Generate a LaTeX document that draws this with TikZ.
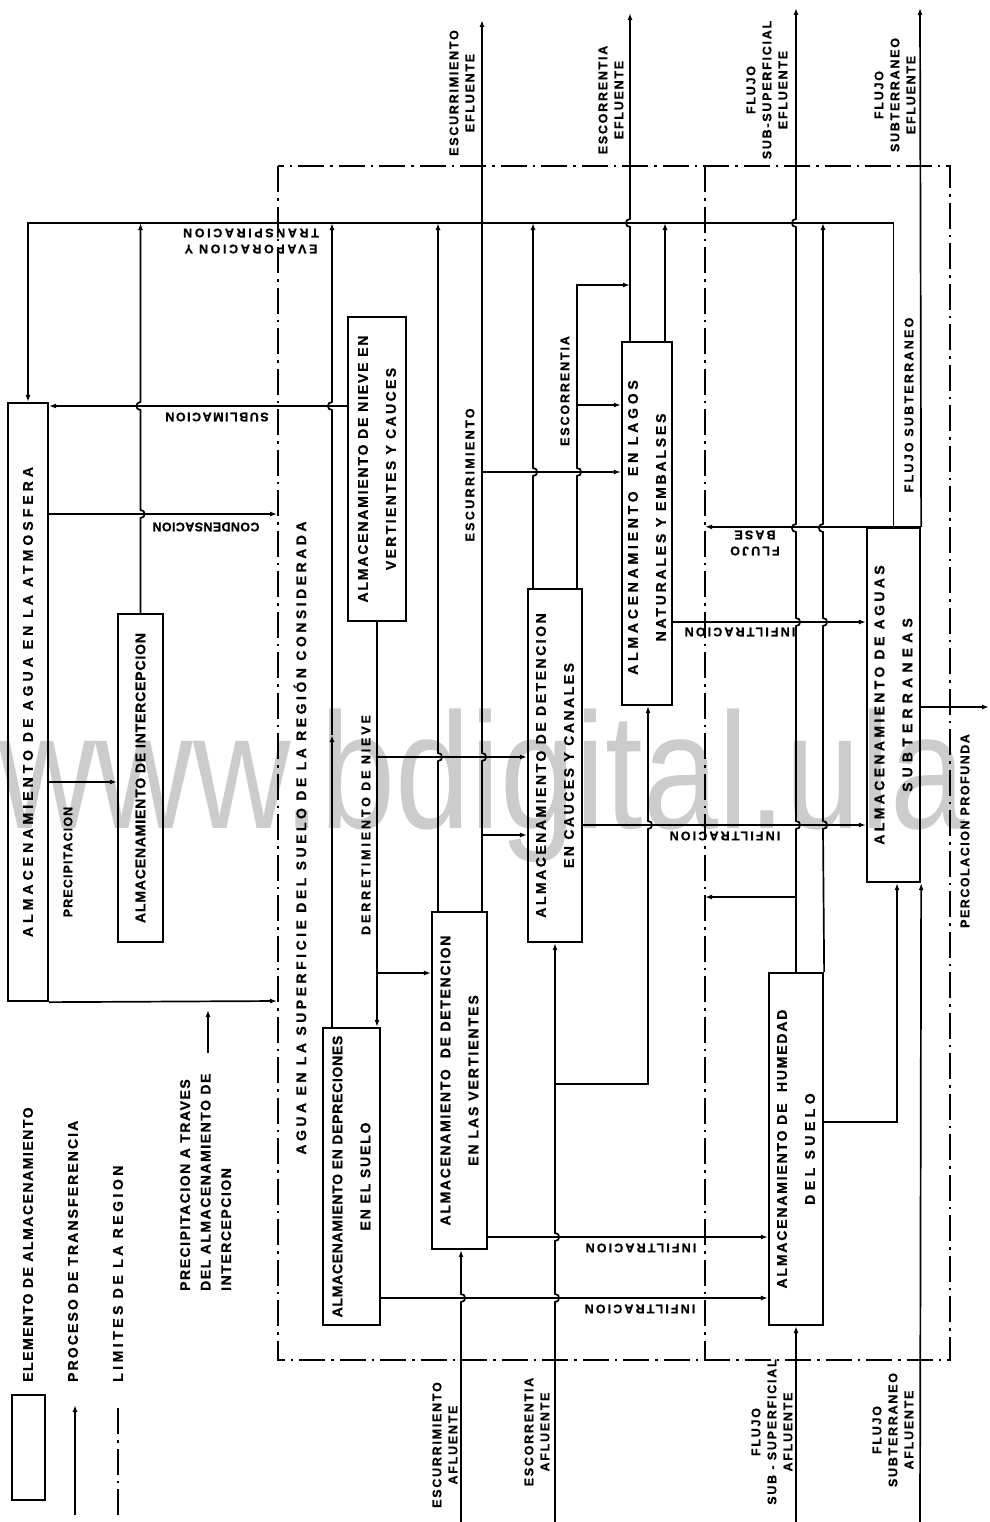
\documentclass[tikz,border=0pt]{standalone}
\usepackage{fontspec}
\setmainfont{Liberation Sans}
\newfontfamily\lbf{Liberation Sans Bold}[FakeBold=0.8]
\usetikzlibrary{arrows.meta}
\newcommand\LS[1]{\addfontfeature{LetterSpace=#1}}
\tikzset{
  ln/.style={line width=1.7bp},
  arr/.style={ln, -{Latex[length=7bp,width=5bp]}},
  box/.style={draw, line width=2.3bp, inner sep=0pt},
  region/.style={line width=1.7bp, dash pattern=on 26bp off 6bp on 2.5bp off 6bp},
  txt/.style={inner sep=0pt, align=center, font=\lbf\fontsize{14bp}{28bp}\selectfont},
  lab/.style={inner sep=0pt, align=center, font=\lbf\fontsize{12.5bp}{16bp}\selectfont},
  end/.style={inner sep=0pt, align=center, font=\lbf\fontsize{12.5bp}{16bp}\selectfont\LS{14}},
  % small semicircular hop of a vertical line (drawn upwards) over a horizontal one
  jump/.style n args={3}{insert path={-- ({#1},{#2+4}) .. controls ({#1+(#3)*5.5},{#2+4}) and ({#1+(#3)*5.5},{#2-4}) .. ({#1},{#2-4})}},
}
\begin{document}
\begin{tikzpicture}[x=1bp,y=-1bp]
\useasboundingbox (0,0) rectangle (989,1522);

% ---------- watermark (behind the drawing) ----------
\node[anchor=base west, inner sep=0pt, text=black!20, xscale=0.9, yscale=1.1, font=\fontsize{150bp}{150bp}\selectfont] (wm) at (-2,828) {www.bdigital.ula};

% ---------- limits of the region ----------
\coordinate (rNW) at (278,166);
\coordinate (rSE) at (950,1360);
\coordinate (dT) at (705,166);
\coordinate (dB) at (705,1360);
\draw[region] (rNW) rectangle (rSE);
\draw[region] (dT) -- (dB);

% ---------- storage elements ----------
\node[box, minimum width=40bp, minimum height=598bp] (atm) at (28,702) {};
\node[box, minimum width=45bp, minimum height=328bp] (intc) at (140.5,778) {};
\node[box, minimum width=58bp, minimum height=304bp] (snow) at (377,469) {};
\node[box, minimum width=57bp, minimum height=297bp] (dep) at (351.5,1176.5) {};
\node[box, minimum width=55bp, minimum height=337bp] (vert) at (459.5,1080.5) {};
\node[box, minimum width=54bp, minimum height=353bp] (cauc) at (555,765.5) {};
\node[box, minimum width=50bp, minimum height=363bp] (lake) at (647,523.5) {};
\node[box, minimum width=53bp, minimum height=354bp] (gw) at (893.5,705) {};
\node[box, minimum width=54bp, minimum height=352bp] (soil) at (796,1149) {};
\node[box, minimum width=33bp, minimum height=105bp] (lgbox) at (28.5,1447.5) {};

\node[txt, rotate=90] (tAtm) at (atm.center) {\LS{29}ALMACENAMIENTO DE AGUA EN LA ATMOSFERA};
\node[txt, rotate=90] (tIntc) at (intc.center) {\LS{6}ALMACENAMIENTO DE INTERCEPCION};
\node[txt, rotate=90] (tSnow) at (snow.center) {{\LS{13}ALMACENAMIENTO DE NIEVE EN}\\{\LS{17}VERTIENTES Y CAUCES}};
\node[txt, rotate=90] (tDep) at (dep.center) {{\LS{5}ALMACENAMIENTO EN DEPRECIONES}\\{\LS{13}EN EL SUELO}};
\node[txt, rotate=90] (tVert) at (vert.center) {{\LS{12}ALMACENAMIENTO\ \ DE DETENCION}\\{\LS{14}EN LAS VERTIENTES}};
\node[txt, rotate=90] (tCauc) at (cauc.center) {{\LS{18}ALMACENAMIENTO DE DETENCION}\\{\LS{18}EN CAUCES Y CANALES}};
\node[txt, rotate=90] (tLake) at ([yshift=-4bp]lake.center) {{\LS{27}ALMACENAMIENTO\ \ EN LAGOS}\\{\LS{20}NATURALES Y EMBALSES}};
\node[txt, rotate=90] (tGw) at (gw.center) {{\LS{24}ALMACENAMIENTO DE AGUAS}\\{\LS{37}SUBTERRANEAS}};
\node[txt, rotate=90] (tSoil) at (soil.center) {{\LS{13}ALMACENAMIENTO DE\ \ HUMEDAD}\\{\LS{32}DEL SUELO}};

% ---------- evaporation and transpiration ----------
\coordinate (evR) at (893.5,223);
\coordinate (evL) at (28,223);
\draw[arr] (gw.north) -- (evR) -- (evL) -- (atm.north);
\node[lab, rotate=180] (lEv) at (251,241) {{\LS{21}EVAPORACION Y}\\{\LS{21}TRANSPIRACION}};
\draw[arr] (intc.north) [jump={140.5}{514}{1}] [jump={140.5}{406}{-1}] -- (intc.north |- evL);

% ---------- atmosphere exchanges ----------
\draw[arr] (snow.west |- 0,406) -- (atm.east |- 0,406);
\node[lab, rotate=180] (lSub) at (217,417) {\LS{12}SUBLIMACION};
\coordinate (conE) at (277,514);
\draw[arr] (atm.east |- conE) -- (conE);
\node[lab, rotate=180] (lCon) at (206,527) {\LS{3}CONDENSACION};
\draw[arr] (atm.east |- 0,782) -- (intc.west |- 0,782);
\node[lab, rotate=90] (lPre) at (68,862) {\LS{9}PRECIPITACION};
\coordinate (thrE) at (277,1001);
\draw[arr] (atm.south east) -- (thrE);

% ---------- surface storages ----------
\coordinate (depM) at (332,735);
\draw[arr] (dep.north -| depM) -- (depM);
\draw[arr] (depM) [jump={332}{406}{-1}] -- (depM |- evL);
\draw[arr] (snow.south) -- (dep.north -| snow.south);
\node[lab, rotate=90] (lDer) at (366,825) {\LS{23}DERRETIMIENTO DE NIEVE};
\coordinate (dr1) at (377,757);
\coordinate (dr2) at (377,973);
\draw[arr] (dr1) -- (cauc.west |- dr1);
\draw[arr] (dr2) -- (vert.west |- dr2);
\draw[arr] (vert.north -| 438,0) [jump={438}{757}{1}] -- (438,223);
\coordinate (escTop) at (482,20);
\draw[arr] (vert.north -| escTop) [jump={482}{757}{1}] -- (escTop);
\coordinate (es1) at (482,472);
\coordinate (es2) at (482,835);
\draw[arr] (es1) -- (lake.west |- es1);
\draw[arr] (es2) -- (cauc.west |- es2);
\node[lab, rotate=90] (lEsc) at (470,475) {\LS{19}ESCURRIMIENTO};
\draw[arr] (cauc.north -| 533,0) [jump={533}{472}{1}] -- (533,223);
\coordinate (ec1) at (577,285);
\coordinate (ec2) at (577,405);
\coordinate (lkTop) at (630,13);
\draw[arr] (cauc.north -| ec1) [jump={577}{472}{1}] -- (ec1) -- (lkTop |- ec1);
\draw[arr] (ec2) -- (lake.west |- ec2);
\node[lab, rotate=90] (lEsr) at (565,391) {\LS{15}ESCORRENTIA};
\draw[arr] (lake.north -| lkTop) [jump={630}{223}{-1}] -- (lkTop);
\draw[arr] (lake.north -| 665,0) -- (665,223);

% ---------- infiltration ----------
\draw[arr] (lake.east |- 0,622) -- (gw.west |- 0,622);
\node[lab, rotate=180] (lInf1) at (740,632) {\LS{17}INFILTRACION};
\draw[arr] (cauc.east |- 0,825) -- (gw.west |- 0,825);
\node[lab, rotate=180] (lInf2) at (725,836) {\LS{17}INFILTRACION};
\draw[arr] (vert.east |- 0,1237) -- (soil.west |- 0,1237);
\node[lab, rotate=180] (lInf3) at (641,1248) {\LS{17}INFILTRACION};
\draw[arr] (dep.east |- 0,1298) -- (soil.west |- 0,1298);
\node[lab, rotate=180] (lInf4) at (640,1309) {\LS{17}INFILTRACION};

% ---------- inflows from outside ----------
\coordinate (erB) at (461,1522);
\draw[arr] (erB) [jump={461}{1298}{1}] -- (vert.south -| erB);
\coordinate (ecB) at (555,1522);
\draw[arr] (ecB) [jump={555}{1298}{1}] [jump={555}{1237}{1}] -- (cauc.south);
\coordinate (ea1) at (555,1084);
\draw[arr] (ea1) -- (648,1084) [jump={648}{825}{1}] -- (lake.south -| 648,0);

% ---------- subsurface and ground water ----------
\coordinate (ssTop) at (796,8);
\draw[arr] (soil.north) [jump={796}{825}{1}] [jump={796}{622}{1}] [jump={796}{528}{-1}] [jump={796}{223}{-1}] -- (ssTop);
\draw[arr] (soil.north east) [jump={823}{825}{1}] [jump={823}{622}{1}] [jump={823}{528}{-1}] -- (823,223);
\coordinate (ss1) at (796,897);
\draw[arr] (ss1) -- (dB |- ss1);
\draw[arr] (gw.north east) -- (dT |- gw.north east);
\node[lab, rotate=180] (lFb) at (755,543) {{\LS{17}FLUJO}\\{\LS{17}BASE}};
\coordinate (gwTop) at (920,8);
\draw[arr] (gw.north east) -- (gwTop);
\node[lab, rotate=90] (lFs) at (909,405) {\LS{18}FLUJO SUBTERRANEO};
\coordinate (pcE) at (989,707);
\draw[arr] (gw.east |- pcE) -- (pcE);
\node[lab, rotate=90] (lPerc) at (965,831) {\LS{12}PERCOLACION PROFUNDA};
\coordinate (sg1) at (897,1122);
\draw[arr] (soil.east |- sg1) -- (sg1) -- (gw.south -| sg1);
\coordinate (gwB) at (920,1522);
\draw[arr] (gwB) -- (gw.south east);
\coordinate (ssB) at (796,1522);
\draw[arr] (ssB) -- (soil.south);

% ---------- outflow / inflow names ----------
\node[end, rotate=90] (nEscT) at (462,93) {ESCURRIMIENTO\\EFLUENTE};
\node[end, rotate=90] (nEsrT) at (611,100) {ESCORRENTIA\\EFLUENTE};
\node[end, rotate=90] (nSsT) at (767,90) {FLUJO\\SUB-SUPERFICIAL\\EFLUENTE};
\node[end, rotate=90] (nGwT) at (895,95) {FLUJO\\SUBTERRANEO\\EFLUENTE};
\node[end, rotate=90] (nEscB) at (445,1445) {ESCURRIMIENTO\\AFLUENTE};
\node[end, rotate=90] (nEsrB) at (537,1432) {ESCORRENTIA\\AFLUENTE};
\node[end, rotate=90] (nSsB) at (772,1432) {FLUJO\\SUB - SUPERFICIAL\\AFLUENTE};
\node[end, rotate=90] (nGwB) at (893,1430) {FLUJO\\SUBTERRANEO\\AFLUENTE};

% ---------- region title ----------
\node[txt, rotate=90] (lAgua) at (300,838) {\LS{25}AGUA EN LA SUPERFICIE DEL SUELO DE LA REGIÓN CONSIDERADA};

% ---------- legend ----------
\coordinate (lgA1) at (75,1515);
\coordinate (lgA2) at (75,1405);
\draw[arr] (lgA1) -- (lgA2);
\coordinate (lgR1) at (118,1515);
\coordinate (lgR2) at (118,1405);
\draw[region] (lgR1) -- (lgR2);
\node[txt, rotate=90, anchor=west] (lg1) at (28,1382) {\LS{11}ELEMENTO DE ALMACENAMIENTO};
\node[txt, rotate=90, anchor=west] (lg2) at (73,1382) {\LS{15}PROCESO DE TRANSFERENCIA};
\node[txt, rotate=90, anchor=west] (lg3) at (118,1382) {\LS{25}LIMITES DE LA REGION};
\node[txt, rotate=90, anchor=north west, align=left, font=\lbf\fontsize{14bp}{20.5bp}\selectfont\LS{11}] (lgP) at (180,1291) {PRECIPITACION A TRAVES\\DEL ALMACENAMIENTO DE\\INTERCEPCION};
\coordinate (pp1) at (208,1053);
\coordinate (pp2) at (208,1010);
\draw[arr] (pp1) -- (pp2);
\end{tikzpicture}
\end{document}
